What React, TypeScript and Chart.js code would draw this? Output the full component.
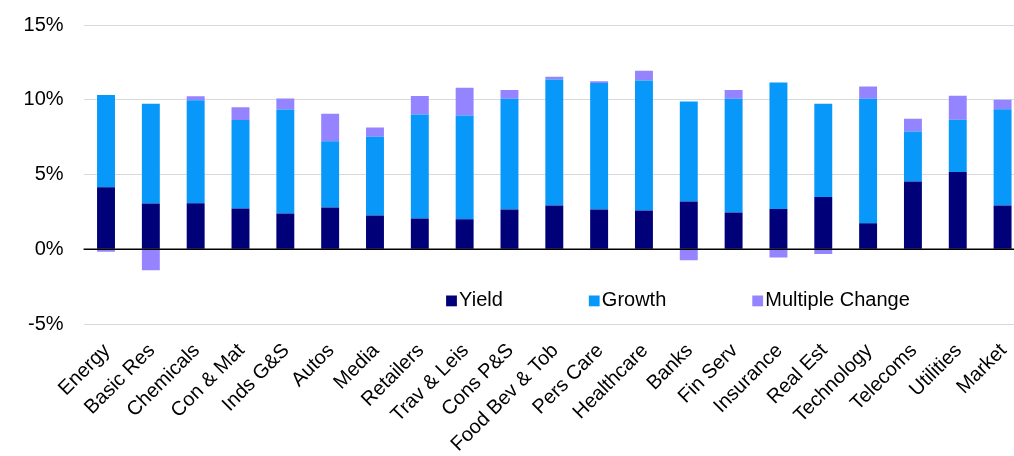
import React, { useEffect, useRef } from "react";
import { Chart, registerables } from "chart.js";

Chart.register(...registerables);

const categories = [
  "Energy", "Basic Res", "Chemicals", "Con & Mat", "Inds G&S", "Autos", "Media",
  "Retailers", "Trav & Leis", "Cons P&S", "Food Bev & Tob", "Pers Care", "Healthcare",
  "Banks", "Fin Serv", "Insurance", "Real Est", "Technology", "Telecoms", "Utilities", "Market",
];

const yieldValues = [4.15, 3.06, 3.08, 2.72, 2.39, 2.79, 2.25, 2.05, 2.01, 2.66, 2.92, 2.66, 2.59, 3.19, 2.46, 2.70, 3.50, 1.74, 4.53, 5.16, 2.92];
const growthValues = [6.16, 6.67, 6.88, 5.92, 6.96, 4.44, 5.27, 6.97, 6.94, 7.41, 8.44, 8.46, 8.70, 6.70, 7.61, 8.46, 6.23, 8.33, 3.35, 3.50, 6.45];
const multipleValues = [-0.16, -1.41, 0.27, 0.85, 0.74, 1.83, 0.63, 1.23, 1.85, 0.58, 0.18, 0.11, 0.65, -0.74, 0.58, -0.56, -0.31, 0.82, 0.85, 1.61, 0.63];

const seriesLabels = ["Yield", "Growth", "Multiple Change"];
const seriesColors = ["#000078", "#0898F9", "#9584FF"];

const yMin = -5;
const yMax = 15;
const yStep = 5;

const FONT = '"Liberation Sans", Arial, sans-serif';

const zeroLine = {
  id: "zeroLine",
  afterDatasetsDraw(chart: any) {
    const { ctx, chartArea, scales } = chart;
    const y = Math.round(scales.y.getPixelForValue(0)) + 0.25;
    ctx.save();
    ctx.strokeStyle = "#000000";
    ctx.lineWidth = 1.5;
    ctx.beginPath();
    ctx.moveTo(chartArea.left, y);
    ctx.lineTo(chartArea.right, y);
    ctx.stroke();
    ctx.restore();
  },
};

const insideLegend = {
  id: "insideLegend",
  afterDraw(chart: any) {
    const { ctx, chartArea } = chart;
    ctx.save();
    ctx.font = `20px ${FONT}`;
    ctx.textBaseline = "middle";
    ctx.textAlign = "left";
    let x = chartArea.left + 362.5;
    const y = chartArea.bottom - 23.3;
    chart.data.datasets.forEach((ds: any) => {
      ctx.fillStyle = ds.backgroundColor;
      ctx.fillRect(x, y - 5.2, 10.8, 10.8);
      ctx.fillStyle = "#000000";
      ctx.fillText(ds.label, x + 13, y);
      x += 13 + ctx.measureText(ds.label).width + 86;
    });
    ctx.restore();
  },
};

export default function App() {
  const ref = useRef<HTMLCanvasElement | null>(null);

  useEffect(() => {
    if (!ref.current) return;
    const values = [yieldValues, growthValues, multipleValues];
    const chart = new Chart(ref.current, {
      type: "bar",
      data: {
        labels: categories,
        datasets: values.map((v, i) => ({
          label: seriesLabels[i],
          data: v,
          backgroundColor: seriesColors[i],
          borderWidth: 0,
          categoryPercentage: 1,
          barPercentage: 0.4,
        })),
      },
      options: {
        responsive: false,
        animation: false,
        layout: { padding: { top: 25, left: 0, right: 0, bottom: 0 } },
        plugins: {
          legend: { display: false },
          tooltip: { enabled: false },
        },
        scales: {
          x: {
            stacked: true,
            grid: { display: false, drawTicks: false },
            border: { display: false },
            ticks: {
              autoSkip: false,
              maxRotation: 45,
              minRotation: 45,
              padding: 15,
              labelOffset: 1,
              color: "#000000",
              font: { family: FONT, size: 20 },
            },
            afterFit(scale: any) {
              scale.height = 132;
              scale.paddingLeft = 0;
              scale.paddingRight = 0;
            },
          },
          y: {
            stacked: true,
            min: yMin,
            max: yMax,
            grid: {
              drawTicks: false,
              color: (c: any) => (c.tick && c.tick.value === 0 ? "rgba(0,0,0,0)" : "#D9D9D9"),
              lineWidth: 1,
            },
            border: { display: false },
            ticks: {
              stepSize: yStep,
              padding: 20,
              color: "#000000",
              font: { family: FONT, size: 20 },
              callback: (v: any) => `${v}%`,
            },
            afterFit(scale: any) {
              scale.width = 83.6;
              scale.paddingTop = 0;
              scale.paddingBottom = 0;
            },
          },
        },
      },
      plugins: [zeroLine, insideLegend],
    });
    return () => chart.destroy();
  }, []);

  return (
    <div
      style={{
        position: "fixed",
        left: 0,
        top: 0,
        width: 1014,
        height: 456,
        overflow: "hidden",
        background: "#ffffff",
      }}
    >
      <canvas ref={ref} width={1025} height={456} style={{ display: "block" }} />
    </div>
  );
}
